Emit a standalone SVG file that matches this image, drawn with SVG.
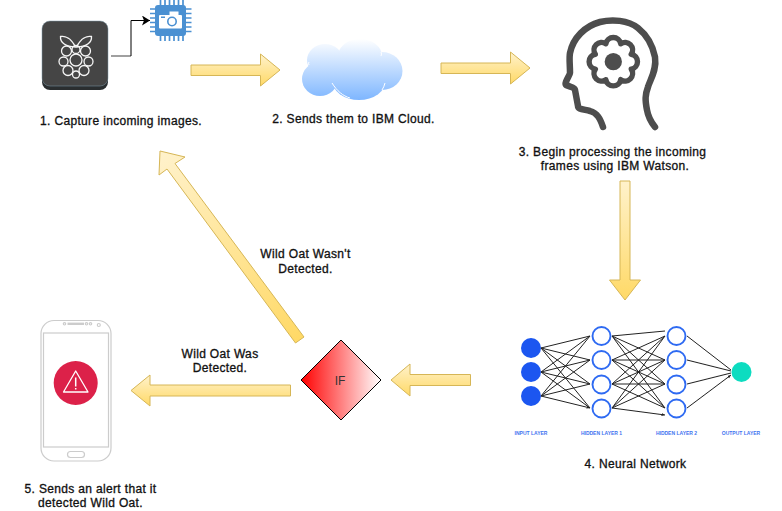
<svg xmlns="http://www.w3.org/2000/svg" width="782" height="511" viewBox="0 0 782 511">
<style>
text{font-family:"Liberation Sans",Arial,sans-serif;font-size:12px;fill:#111;text-anchor:middle;letter-spacing:.34px;stroke:#111;stroke-width:.32px}
.fat{stroke:#d6b656;stroke-width:1}
.nl{stroke:#222;stroke-width:1;marker-end:url(#nh);fill:none}
.in{fill:#1a56f0}
.hid{fill:#fff;stroke:#2f6bf2;stroke-width:1.9}
.lab{font-size:5px;font-weight:bold;fill:#3f74f0;stroke:none;letter-spacing:0}
.ph{fill:none;stroke:#ccc;stroke-width:1.2}
.rb{fill:none;stroke:#f5f5f5;stroke-width:1.3}
.pin{stroke:#4a90d2;stroke-width:1.7;fill:none}
.cl{fill:url(#cg)}
</style>
<defs>
<linearGradient id="gh1" gradientUnits="userSpaceOnUse" x1="0" y1="54" x2="0" y2="86"><stop offset="0" stop-color="#fff2cc"/><stop offset="1" stop-color="#ffd966"/></linearGradient>
<linearGradient id="gh2" gradientUnits="userSpaceOnUse" x1="0" y1="52" x2="0" y2="84"><stop offset="0" stop-color="#fff2cc"/><stop offset="1" stop-color="#ffd966"/></linearGradient>
<linearGradient id="gh3" gradientUnits="userSpaceOnUse" x1="0" y1="364" x2="0" y2="396"><stop offset="0" stop-color="#fff2cc"/><stop offset="1" stop-color="#ffd966"/></linearGradient>
<linearGradient id="gh4" gradientUnits="userSpaceOnUse" x1="0" y1="375" x2="0" y2="406"><stop offset="0" stop-color="#fff2cc"/><stop offset="1" stop-color="#ffd966"/></linearGradient>
<linearGradient id="gv" gradientUnits="userSpaceOnUse" x1="0" y1="180" x2="0" y2="300"><stop offset="0" stop-color="#fff2cc"/><stop offset="1" stop-color="#ffd966"/></linearGradient>
<linearGradient id="gd" gradientUnits="userSpaceOnUse" x1="160" y1="151" x2="300" y2="339"><stop offset="0" stop-color="#fff2cc"/><stop offset="1" stop-color="#ffd966"/></linearGradient>
<linearGradient id="cg" gradientUnits="userSpaceOnUse" x1="0" y1="39" x2="0" y2="100"><stop offset="0" stop-color="#fff"/><stop offset="1" stop-color="#7eb6ff"/></linearGradient>
<linearGradient id="dg" x1="0" y1="0" x2="1" y2="0"><stop offset="0" stop-color="#f00"/><stop offset="1" stop-color="#fff"/></linearGradient>
<marker id="bk" markerUnits="userSpaceOnUse" markerWidth="9" markerHeight="10" refX="8" refY="5" orient="auto"><path d="M0 0L8 5L0 10L2 5Z" fill="#000"/></marker>
<marker id="nh" markerUnits="userSpaceOnUse" markerWidth="4" markerHeight="4" refX="3.500" refY="1.500" orient="auto"><path d="M0 0L3.500 1.500L0 3Z" fill="#222"/></marker>
<filter id="sb" x="-5%" y="-5%" width="110%" height="110%"><feGaussianBlur stdDeviation=".35"/></filter>
</defs>

<g id="connectors">
<path d="M111 56H131" fill="none" stroke="#777" stroke-width="1.4"/>
<path d="M131 56V20.500H150" fill="none" stroke="#000" stroke-width="1" marker-end="url(#bk)"/>
<path class="fat" fill="url(#gh1)" d="M191 65H260.500V54L280 70L260.500 86V75.500H191Z"/>
<path class="fat" fill="url(#gh2)" d="M441 63H510.500V52L530 68L510.500 84V73.500H441Z"/>
<path class="fat" fill="url(#gv)" d="M620 181H630V280H640.500L625 300L609.500 280H620Z"/>
<path class="fat" fill="url(#gh3)" d="M470.500 374.500H410V364L391 380L410 396V385.500H470.500Z"/>
<path class="fat" fill="url(#gh4)" d="M290.500 385H150V375L131 390.500L150 406V396H290.500Z"/>
<path class="fat" fill="url(#gd)" d="M304 337L175 163.500L185 157L160 151L159 175L167 169L295.500 343Z"/>
</g>

<g id="pi">
<rect x="42" y="23" width="66" height="67" rx="8" fill="#2a2e30"/>
<rect x="42" y="21" width="66" height="65" rx="8" fill="#454545" stroke="#7f9aa8" stroke-width=".5"/>
<path class="rb" d="M75.500 47C71 38 65 35.500 60.500 36.500C60 42 65 47 75.500 47ZM76.500 47C81 38 87 35.500 91.500 36.500C92 42 87 47 76.500 47Z"/>
<circle class="rb" cx="76" cy="60" r="6"/><circle class="rb" cx="76" cy="49.500" r="4"/>
<circle class="rb" cx="66.500" cy="51" r="5"/><circle class="rb" cx="85.500" cy="51" r="5"/>
<circle class="rb" cx="63.500" cy="61.500" r="4.500"/><circle class="rb" cx="88.500" cy="61.500" r="4.500"/>
<circle class="rb" cx="68" cy="70.500" r="5"/><circle class="rb" cx="84" cy="70.500" r="5"/><circle class="rb" cx="76" cy="74.500" r="3.500"/>
</g>

<g id="chip">
<path class="pin" d="M160.500 0V41M165 0V41M169.500 0V41M174 0V41M178.500 0V41M183 0V41M150 9H191.500M150 13.500H191.500M150 18H191.500M150 22.500H191.500M150 27H191.500M150 31.500H191.500"/>
<rect x="155" y="5" width="31" height="31" rx="3" fill="#4a90d2"/>
<rect x="159" y="15" width="23" height="13.500" rx="1" fill="#fff"/>
<rect x="169.500" y="11.500" width="9" height="4" fill="#fff"/>
<rect x="161" y="16.500" width="4" height="1.500" fill="#4a90d2"/>
<circle cx="172" cy="21.500" r="4.200" fill="none" stroke="#4a90d2" stroke-width="1.600"/>
</g>
<text x="121" y="125">1. Capture incoming images.</text>

<g id="cloud">
<ellipse class="cl" cx="325" cy="60" rx="18" ry="16"/>
<ellipse class="cl" cx="320" cy="79" rx="18" ry="17"/>
<ellipse class="cl" cx="382" cy="71" rx="20.500" ry="19"/>
<ellipse class="cl" cx="360" cy="56" rx="22" ry="17"/>
<ellipse class="cl" cx="359" cy="80" rx="27" ry="20"/>
<path d="M332 83C337 91 343 96 350 98M385 83Q384 87 382 90M309 65Q308 63 309 62M381 52Q382 54 381 56M339 45Q341 46 342 47" fill="none" stroke="#fff" stroke-width="1"/>
</g>
<text x="353.500" y="123">2. Sends them to IBM Cloud.</text>

<g id="head" fill="none" stroke="#4d4d4d" stroke-width="6.500" stroke-linecap="round" stroke-linejoin="round">
<path d="M603 127C600 118 597 113 590 111C582 109 578 109 578 106L575 90C575 87 570 87 566 85C564 83 570 75 570 73C570 65 569 58 570 53C573 38 585 26 600 22C612 19 628 20 638 28C648 36 653 47 655 57C657 70 650 80 648 87C645 95 645 100 647 110C648 116 651 122 655 127"/>
<g transform="translate(613.300 61.700) scale(1.08)">
<path d="M16.630-6.890A7 7 0 0 1 16.630 6.890A7 7 0 0 1 6.890 16.630A7 7 0 0 1-6.890 16.630A7 7 0 0 1-16.630 6.890A7 7 0 0 1-16.630-6.890A7 7 0 0 1-6.890-16.630A7 7 0 0 1 6.890-16.630A7 7 0 0 1 16.630-6.890Z" stroke-width="5"/>
<circle r="8" fill="#4d4d4d" stroke="none"/>
</g>
</g>
<text x="612.500" y="156">3. Begin processing the incoming</text>
<text x="615" y="170">frames using IBM Watson.</text>

<g id="network">
<g filter="url(#sb)">
<path class="nl" d="M541 348L590 336M541 348L590 360M541 348L590 384M541 348L590 408M541 372L590 336M541 372L590 360M541 372L590 384M541 372L590 408M541 396L590 336M541 396L590 360M541 396L590 384M541 396L590 408"/>
<path class="nl" d="M612 336L665 331M612 336L665 360M612 336L665 384M612 336L665 408M612 360L665 336M612 360L665 360M612 360L665 384M612 360L665 408M612 384L665 336M612 384L665 360M612 384L665 384M612 384L665 408M612 408L665 336M612 408L665 360M612 408L665 384M612 408L665 415"/>
<path class="nl" d="M687 336L731 370M687 360L731 371M687 384L731 373M687 408L731 375"/>
<circle class="in" cx="531" cy="348" r="10"/><circle class="in" cx="531" cy="372" r="10"/><circle class="in" cx="531" cy="396" r="10"/>
<circle class="hid" cx="601.500" cy="336" r="9"/><circle class="hid" cx="601.500" cy="360" r="9"/><circle class="hid" cx="601.500" cy="384.500" r="9"/><circle class="hid" cx="601.500" cy="408.500" r="9"/>
<circle class="hid" cx="676.500" cy="336" r="9"/><circle class="hid" cx="676.500" cy="360" r="9"/><circle class="hid" cx="676.500" cy="384.500" r="9"/><circle class="hid" cx="676.500" cy="408.500" r="9"/>
<circle cx="741.500" cy="372" r="10" fill="#0fdcc0"/>
</g>
<text class="lab" x="531" y="434.500">INPUT LAYER</text>
<text class="lab" x="601.500" y="434.500">HIDDEN LAYER 1</text>
<text class="lab" x="676.500" y="434.500">HIDDEN LAYER 2</text>
<text class="lab" x="741" y="434.500">OUTPUT LAYER</text>
</g>
<text x="635.500" y="468">4. Neural Network</text>

<g id="decision">
<path d="M341 340L381 380L341 420L301 380Z" fill="url(#dg)" stroke="#000" stroke-width="1"/>
<text x="340" y="385" style="fill:#333;stroke:none;letter-spacing:0">IF</text>
</g>

<g id="phone">
<rect class="ph" x="41" y="320.500" width="70" height="140.500" rx="13"/>
<rect class="ph" x="43.500" y="333" width="65" height="114"/>
<rect class="ph" x="67.500" y="451.500" width="17" height="6" rx="3"/>
<path d="M67.500 323.800H84" stroke="#ccc" stroke-width="2.400" fill="none"/>
<circle class="ph" cx="64.500" cy="323.800" r="1.200"/><circle class="ph" cx="86.500" cy="323.800" r="1.200"/><circle class="ph" cx="90.500" cy="323.800" r="1.200"/><circle class="ph" cx="98.800" cy="325" r="1.500"/>
<circle cx="75.700" cy="383" r="22" fill="#dc2149"/>
<path d="M75.700 371L88 392H63.500Z" fill="none" stroke="#fff" stroke-width="1.300" stroke-linejoin="round"/>
<path d="M75.700 377.500V386.500M75.700 388V389.500" stroke="#fff" stroke-width="1.500" fill="none"/>
</g>
<text x="90.500" y="493">5. Sends an alert that it</text>
<text x="90.500" y="507">detected Wild Oat.</text>

<text x="305.500" y="258">Wild Oat Wasn't</text>
<text x="305.500" y="273">Detected.</text>
<text x="220" y="358">Wild Oat Was</text>
<text x="220" y="372">Detected.</text>
</svg>
